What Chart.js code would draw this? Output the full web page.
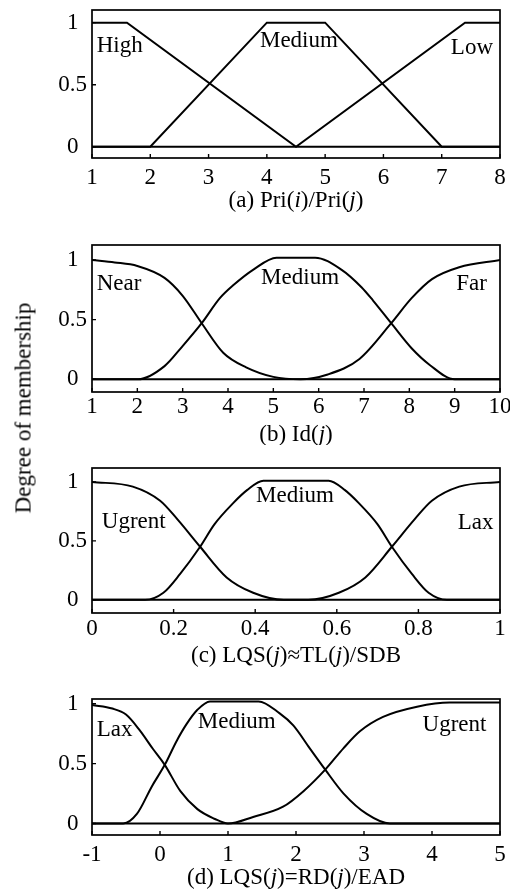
<!DOCTYPE html>
<html><head><meta charset="utf-8">
<script src="https://cdn.jsdelivr.net/npm/chart.js@4.4.1/dist/chart.umd.min.js"></script>
<style>
html,body{margin:0;padding:0;background:#fff;}
body{width:510px;height:892px;position:relative;overflow:hidden;}
canvas{position:absolute;left:0;}
#ytitle{position:absolute;left:23px;top:408px;transform:translate(-50%,-50%) rotate(-90deg);font-family:'Liberation Serif','Times New Roman',serif;font-size:23px;white-space:nowrap;color:#000;line-height:1;}
</style></head>
<body>
<canvas id="ca" width="510" height="215" style="top:0px"></canvas>
<canvas id="cb" width="510" height="230" style="top:215px"></canvas>
<canvas id="cc" width="510" height="223" style="top:445px"></canvas>
<canvas id="cd" width="510" height="224" style="top:668px"></canvas>
<div id="ytitle">Degree of membership</div>
<script>
// ---------- DATA ----------
const yTicks = [0, 0.5, 1];
const yTickLabels = ['0', '0.5', '1'];

// (a) Pri(i)/Pri(j)
const aXTicks = [1, 2, 3, 4, 5, 6, 7, 8];
const aXTickLabels = ['1', '2', '3', '4', '5', '6', '7', '8'];
const aHighX = [1, 1.6, 4.5, 8];
const aHighY = [1, 1, 0, 0];
const aMedX = [1, 2, 4, 5, 7, 8];
const aMedY = [0, 0, 1, 1, 0, 0];
const aLowX = [1, 4.5, 7.4, 8];
const aLowY = [0, 0, 1, 1];
const aNames = ['High', 'Medium', 'Low'];

// (b) Id(j)
const bXTicks = [1, 2, 3, 4, 5, 6, 7, 8, 9, 10];
const bXTickLabels = ['1', '2', '3', '4', '5', '6', '7', '8', '9', '10'];
const bNearX = [1, 1.5, 2, 2.6, 3, 3.42, 3.9, 4.4, 5.0, 5.6, 10];
const bNearY = [1.0, 0.98, 0.95, 0.85, 0.70, 0.47, 0.22, 0.10, 0.02, 0, 0];
const bMedX = [1, 2.02, 2.6, 2.98, 3.42, 3.82, 4.12, 4.56, 5.07, 5.92, 6.5, 6.95, 7.2, 7.6, 8.05, 8.45, 9.0, 10];
const bMedY = [0, 0, 0.11, 0.27, 0.47, 0.68, 0.79, 0.92, 1.02, 1.02, 0.92, 0.77, 0.66, 0.47, 0.26, 0.12, 0, 0];
const bFarX = [1, 5.6, 6.2, 6.9, 7.6, 8.05, 8.5, 9.1, 10];
const bFarY = [0, 0, 0.04, 0.17, 0.47, 0.68, 0.84, 0.94, 1.0];
const bNames = ['Near', 'Medium', 'Far'];

// (c) LQS(j)=TL(j)/SDB
const cXTicks = [0, 0.2, 0.4, 0.6, 0.8, 1];
const cXTickLabels = ['0', '0.2', '0.4', '0.6', '0.8', '1'];
const cUrgX = [0, 0.1, 0.167, 0.21, 0.265, 0.33, 0.395, 0.47, 1];
const cUrgY = [1.0, 0.96, 0.84, 0.68, 0.45, 0.19, 0.06, 0, 0];
const cMedX = [0, 0.13, 0.175, 0.216, 0.265, 0.30, 0.346, 0.38, 0.42, 0.58, 0.62, 0.654, 0.70, 0.735, 0.784, 0.825, 0.87, 1];
const cMedY = [0, 0, 0.06, 0.22, 0.45, 0.64, 0.82, 0.93, 1.01, 1.01, 0.93, 0.82, 0.64, 0.45, 0.22, 0.06, 0, 0];
const cLaxX = [0, 0.53, 0.605, 0.67, 0.735, 0.79, 0.833, 0.90, 1];
const cLaxY = [0, 0, 0.06, 0.19, 0.45, 0.68, 0.84, 0.96, 1.0];
const cNames = ['Ugrent', 'Medium', 'Lax'];

// (d) LQS(j)=RD(j)/EAD
const dXTicks = [-1, 0, 1, 2, 3, 4, 5];
const dXTickLabels = ['-1', '0', '1', '2', '3', '4', '5'];
const dLaxX = [-1, -0.7, -0.5, -0.3, -0.1, 0.07, 0.3, 0.55, 0.8, 1.0, 5];
const dLaxY = [0.99, 0.96, 0.91, 0.78, 0.62, 0.49, 0.27, 0.12, 0.04, 0, 0];
const dMedX = [-1, -0.54, -0.34, -0.12, 0.07, 0.245, 0.39, 0.55, 0.735, 1.45, 1.76, 1.96, 2.2, 2.43, 2.70, 3.04, 3.38, 5];
const dMedY = [0, 0, 0.08, 0.31, 0.49, 0.69, 0.83, 0.95, 1.02, 1.02, 0.92, 0.82, 0.63, 0.45, 0.25, 0.08, 0, 0];
const dUrgX = [-1, 1.0, 1.37, 1.81, 2.11, 2.43, 2.70, 2.94, 3.28, 3.78, 4.26, 5];
const dUrgY = [0, 0, 0.055, 0.14, 0.27, 0.45, 0.63, 0.77, 0.89, 0.975, 1.01, 1.01];
const dNames = ['Lax', 'Medium', 'Ugrent'];

// ---------- RENDERING ----------
const FONT = "'Liberation Serif','Times New Roman',serif";
Chart.defaults.font.family = FONT;
Chart.defaults.font.size = 23;
Chart.defaults.color = '#000';

function zip(xs, ys) { return xs.map((v, i) => ({x: v, y: ys[i]})); }

const framePlugin = {
  id: 'frame',
  afterDraw(chart, args, o) {
    const {ctx, chartArea: a} = chart;
    const x = chart.scales.x, y = chart.scales.y;
    ctx.save();
    ctx.strokeStyle = '#000';
    ctx.lineWidth = 1.7;
    ctx.strokeRect(a.left, a.top, a.right - a.left, a.bottom - a.top);
    ctx.lineWidth = 1.4;
    ctx.beginPath();
    x.ticks.forEach(t => { const px = x.getPixelForValue(t.value); ctx.moveTo(px, a.bottom); ctx.lineTo(px, a.bottom - 4); });
    y.ticks.forEach(t => { const py = y.getPixelForValue(t.value); ctx.moveTo(a.left, py); ctx.lineTo(a.left + 4, py); });
    ctx.stroke();
    ctx.fillStyle = '#000';
    ctx.textBaseline = 'middle';
    ctx.font = '23px ' + FONT;
    o.labels.forEach(l => {
      ctx.textAlign = l.align;
      ctx.fillText(l.text, x.getPixelForValue(l.x), y.getPixelForValue(l.y));
    });
    // caption with italic segments
    const segs = o.caption;
    const fN = '23px ' + FONT, fI = 'italic 23px ' + FONT;
    let total = 0;
    segs.forEach(s => { ctx.font = s[1] ? fI : fN; total += ctx.measureText(s[0]).width; });
    let cx = (a.left + a.right) / 2 - total / 2;
    const cy = a.bottom + o.captionOffset;
    ctx.textAlign = 'left';
    segs.forEach(s => { ctx.font = s[1] ? fI : fN; ctx.fillText(s[0], cx, cy); cx += ctx.measureText(s[0]).width; });
    ctx.restore();
  }
};

function makeChart(id, p) {
  const datasets = p.series.map(s => ({
    data: zip(s[0], s[1]),
    borderColor: '#000', borderWidth: 2, pointRadius: 0, fill: false,
    tension: p.smooth ? 0.4 : 0,
    cubicInterpolationMode: p.smooth ? 'monotone' : 'default'
  }));
  return new Chart(document.getElementById(id), {
    type: 'line',
    data: {datasets},
    plugins: [framePlugin],
    options: {
      responsive: false, animation: false, devicePixelRatio: 1,
      layout: {padding: {left: 0, right: 10, top: p.padTop, bottom: p.padBottom}},
      plugins: {
        legend: {display: false}, tooltip: {enabled: false},
        frame: {labels: p.labels, caption: p.caption, captionOffset: 43}
      },
      scales: {
        x: {
          type: 'linear', min: p.xMin, max: p.xMax,
          grid: {display: false, drawTicks: false}, border: {display: false},
          afterBuildTicks: sc => { sc.ticks = p.xTicks.map(v => ({value: v})); },
          afterFit: sc => { sc.height = 30; sc.paddingLeft = 0; sc.paddingRight = 0; },
          ticks: {padding: p.xPad, maxRotation: 0, autoSkip: false,
                  callback: (v, i) => p.xLabels[i], font: {size: 23}}
        },
        y: {
          type: 'linear', min: p.yMin, max: p.yMax,
          grid: {display: false, drawTicks: false}, border: {display: false},
          afterBuildTicks: sc => { sc.ticks = yTicks.map(v => ({value: v})); },
          afterFit: sc => { sc.width = 92; sc.paddingTop = 0; sc.paddingBottom = 0; },
          ticks: {padding: 5, crossAlign: 'center', autoSkip: false,
                  callback: (v, i) => yTickLabels[i], font: {size: 23}}
        }
      }
    }
  });
}

makeChart('ca', {
  series: [[aHighX, aHighY], [aMedX, aMedY], [aLowX, aLowY]], smooth: false,
  xMin: 1, xMax: 8, yMin: -0.091, yMax: 1.102, xTicks: aXTicks, xLabels: aXTickLabels,
  padTop: 10, padBottom: 27, xPad: 6,
  labels: [
    {text: aNames[0], x: 1.08, y: 0.81, align: 'left'},
    {text: aNames[1], x: 4.55, y: 0.85, align: 'center'},
    {text: aNames[2], x: 7.88, y: 0.80, align: 'right'}
  ],
  caption: [['(a) Pri(', 0], ['i', 1], [')/Pri(', 0], ['j', 1], [')', 0]]
});

makeChart('cb', {
  series: [[bNearX, bNearY], [bMedX, bMedY], [bFarX, bFarY]], smooth: true,
  xMin: 1, xMax: 10, yMin: -0.107, yMax: 1.126, xTicks: bXTicks, xLabels: bXTickLabels,
  padTop: 30, padBottom: 23, xPad: 1,
  labels: [
    {text: bNames[0], x: 1.104, y: 0.80, align: 'left'},
    {text: bNames[1], x: 5.59, y: 0.85, align: 'center'},
    {text: bNames[2], x: 9.71, y: 0.80, align: 'right'}
  ],
  caption: [['(b) Id(', 0], ['j', 1], [')', 0]]
});

makeChart('cc', {
  series: [[cUrgX, cUrgY], [cMedX, cMedY], [cLaxX, cLaxY]], smooth: true,
  xMin: 0, xMax: 1, yMin: -0.112, yMax: 1.118, xTicks: cXTicks, xLabels: cXTickLabels,
  padTop: 23, padBottom: 25, xPad: 2,
  labels: [
    {text: cNames[0], x: 0.024, y: 0.66, align: 'left'},
    {text: cNames[1], x: 0.4975, y: 0.88, align: 'center'},
    {text: cNames[2], x: 0.984, y: 0.655, align: 'right'}
  ],
  caption: [['(c) LQS(', 0], ['j', 1], [')\u2248TL(', 0], ['j', 1], [')/SDB', 0]]
});

makeChart('cd', {
  series: [[dLaxX, dLaxY], [dMedX, dMedY], [dUrgX, dUrgY]], smooth: true,
  xMin: -1, xMax: 5, yMin: -0.096, yMax: 1.04, xTicks: dXTicks, xLabels: dXTickLabels,
  padTop: 31, padBottom: 27, xPad: 6,
  labels: [
    {text: dNames[0], x: -0.93, y: 0.78, align: 'left'},
    {text: dNames[1], x: 1.128, y: 0.845, align: 'center'},
    {text: dNames[2], x: 4.80, y: 0.82, align: 'right'}
  ],
  caption: [['(d) LQS(', 0], ['j', 1], [')=RD(', 0], ['j', 1], [')/EAD', 0]]
});
</script>
</body></html>
